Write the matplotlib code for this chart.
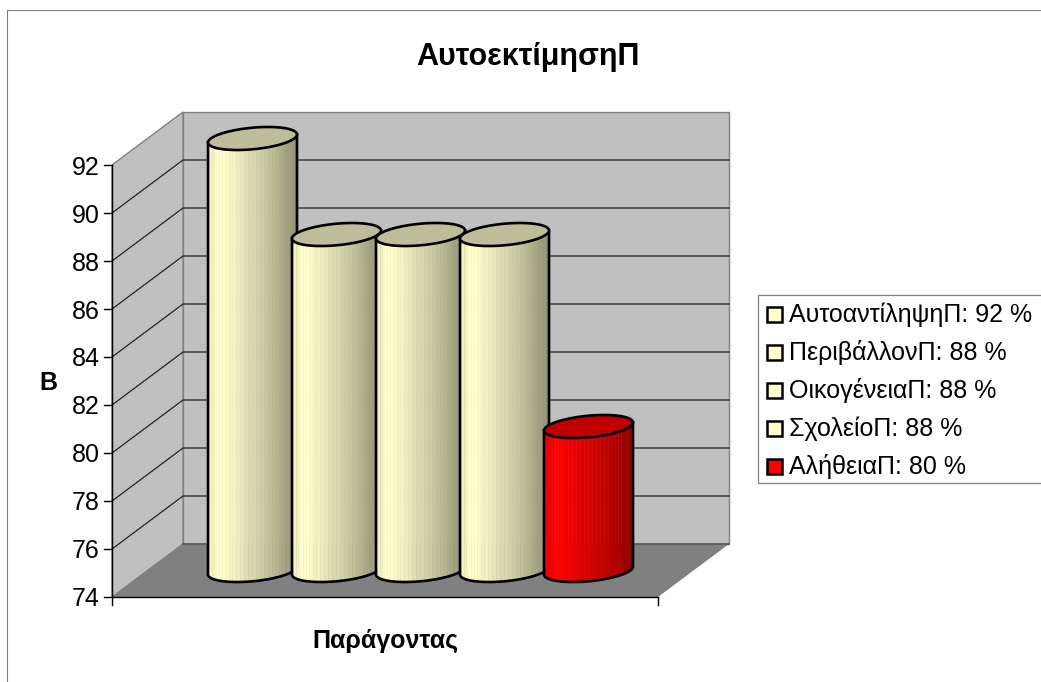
import numpy as np
import matplotlib
matplotlib.use("Agg")
import matplotlib.pyplot as plt
from matplotlib.patches import Rectangle

plt.rcParams['font.family'] = ['Liberation Sans', 'DejaVu Sans']

# данные
categories = ["ΑυτοαντίληψηΠ", "ΠεριβάλλονΠ", "ΟικογένειαΠ", "ΣχολείοΠ", "ΑλήθειαΠ"]
values = [92, 88, 88, 88, 80]
is_red = [False, False, False, False, True]
y_ticks = [74, 76, 78, 80, 82, 84, 86, 88, 90, 92]
title = "ΑυτοεκτίμησηΠ"
x_label = "Παράγοντας"
y_label = "Β"

W, H = 1041, 682
px_x, px_y = 84.0, 24.0   # пикселей на категорию / на единицу значения
x0, y0 = 112, 597         # передний угол оси в пикселях
depth_x, depth_y = 71 / px_x, 53 / px_y
front_w = 6.5
vmin, vmax = 74, 92

fig = plt.figure(figsize=(W / 100, H / 100), dpi=100)
ax = fig.add_axes([0, 0, 1, 1])
ax.set_xlim(-x0 / px_x, (W - x0) / px_x)
ax.set_ylim(vmin - (H - y0) / px_y, vmin + y0 / px_y)
ax.axis("off")

# рамка диаграммы
fig.add_artist(plt.Line2D([7 / W, 7 / W, 1], [0, 1 - 10 / H, 1 - 10 / H], color="#808080", lw=0.8))

# стенки и пол
wall = "#c0c0c0"
ax.fill([depth_x, front_w + depth_x, front_w + depth_x, depth_x],
        [vmin + depth_y, vmin + depth_y, vmax + depth_y, vmax + depth_y],
        color=wall, ec="#808080", lw=1, zorder=1)
ax.fill([0, depth_x, depth_x, 0], [vmin, vmin + depth_y, vmax + depth_y, vmax],
        color=wall, ec="#808080", lw=1, zorder=1)
ax.fill([0, front_w, front_w + depth_x, depth_x], [vmin, vmin, vmin + depth_y, vmin + depth_y],
        color="#808080", lw=0, zorder=1)
ax.plot([depth_x, front_w + depth_x], [vmin + depth_y, vmin + depth_y], color="#555555", lw=1.2, zorder=2)

# линии сетки
for t in y_ticks[1:-1]:
    ax.plot([0, depth_x, front_w + depth_x], [t, t + depth_y, t + depth_y], color="#222222", lw=0.9, zorder=2)

# оси
ax.plot([0, 0], [vmin - 8 / px_y, vmax], color="black", lw=1, zorder=3)
ax.plot([0, front_w], [vmin, vmin], color="black", lw=1, zorder=3)
ax.plot([front_w, front_w], [vmin - 8 / px_y, vmin], color="black", lw=1, zorder=3)
for t in y_ticks:
    ax.plot([-8 / px_x, 0], [t, t], color="black", lw=1, zorder=3)
    ax.text(-12 / px_x, t, str(t), ha="right", va="center_baseline", fontsize=18, color="black")


def shade(u, red):
    # цилиндрическая заливка: светлая полоса слева, темнеет вправо
    k = 0.93 + 0.07 * u / 0.12 if u < 0.12 else 1 - 0.44 * ((u - 0.12) / 0.88) ** 1.2
    k = round(k * 40) / 40  # полосы как в оригинале
    if red:
        return (k, 0, 0)
    return (k, k, k * 0.8)


# цилиндры
A, S, B = 44.5 / px_x, 4 / px_y, 10.8 / px_y
n_strips = 34
for i, (v, red) in enumerate(zip(values, is_red)):
    cx = 1.25 + i + depth_x / 2
    base = vmin + depth_y / 2
    top = v + depth_y / 2
    z = 5 + i
    angles = np.linspace(np.pi, 2 * np.pi, n_strips + 1)
    xs = cx + A * np.cos(angles)
    low = S * np.cos(angles) + B * np.sin(angles)
    for j in range(n_strips):
        ax.fill([xs[j], xs[j + 1], xs[j + 1], xs[j]],
                [base + low[j], base + low[j + 1], top + low[j + 1], top + low[j]],
                color=shade((xs[j] - xs[0]) / (xs[-1] - xs[0]), red), lw=0.3, zorder=z)
    # контур
    ax.plot(np.r_[xs[0], xs, xs[-1]], np.r_[top + low[0], base + low, top + low[-1]],
            color="black", lw=1.9, zorder=z, solid_joinstyle="round")
    # крышка
    t = np.linspace(0, 2 * np.pi, 100)
    ax.fill(cx + A * np.cos(t), top + S * np.cos(t) + B * np.sin(t),
            fc="#c00000" if red else "#bdbd99", ec="black", lw=1.9, zorder=z)

# подписи
fig.text(528 / W, 1 - 57 / H, title, ha="center", va="center", fontsize=22, fontweight="bold")
fig.text(385 / W, 1 - 641 / H, x_label, ha="center", va="center", fontsize=18, fontweight="bold")
fig.text(48 / W, 1 - 383 / H, y_label, ha="center", va="center", fontsize=18, fontweight="bold")

# легенда
fig.add_artist(Rectangle((758 / W, 1 - 483 / H), 300 / W, 188 / H, transform=fig.transFigure,
                         fc="white", ec="#808080", lw=0.9, zorder=10))
for i, (c, v, red) in enumerate(zip(categories, values, is_red)):
    yc = 314 + 38 * i
    fig.add_artist(Rectangle((767 / W, 1 - (yc + 7.5) / H), 15 / W, 15 / H, transform=fig.transFigure,
                             fc="#ff0000" if red else "#ffffcc", ec="black", lw=1.8, zorder=11))
    fig.text(789 / W, 1 - (yc - 2) / H, f"{c}: {v} %", ha="left", va="center_baseline", fontsize=18, zorder=11)

fig.savefig("out.png", dpi=100, facecolor="white")
